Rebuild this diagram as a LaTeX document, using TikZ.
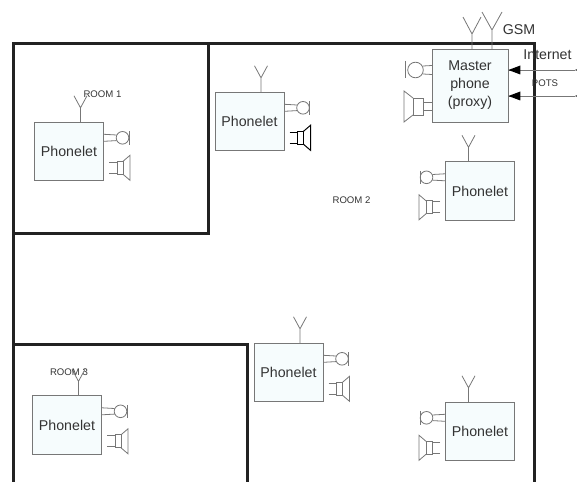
\documentclass[tikz,border=0pt]{standalone}
\usepackage{fontspec}
\setmainfont{Liberation Sans}
\definecolor{wallcol}{HTML}{222222}
\definecolor{linecol}{HTML}{777777}
\definecolor{boxfill}{HTML}{F6FCFD}
\definecolor{txtcol}{HTML}{333333}
\tikzset{
	wall/.style={draw=wallcol, line width=3pt, line cap=rect},
	gearline/.style={draw=linecol, line width=0.8pt},
	phonebox/.style={draw=linecol, line width=0.8pt, fill=boxfill, text=txtcol, font=\fontsize{14.2}{18}\selectfont,
		minimum width=69.2pt, minimum height=58.6pt, inner sep=0pt, align=center},
	roomlabel/.style={text=txtcol, font=\fontsize{9.6}{11}\selectfont, inner sep=0pt},
	biglabel/.style={text=txtcol, font=\fontsize{14.2}{16}\selectfont, inner sep=0pt},
	gear/.pic={
		% aerial
		\draw[gearline] (-23.5,0) -- (-23.5,-14) (-30,-26) -- (-23.5,-14) -- (-17,-26);
		% microphone
		\draw[gearline] (0,12.5) -- (12.5,13.2) (0,19.5) -- (12.5,18.8);
		\draw[gearline] (18.5,16) circle (6.3);
		\draw[gearline] (25,9.5) -- (25,23);
		% speaker
		\draw[draw=\spkcol, line width=\spkw] (5,40.5) -- (13,40.5) (5,51.5) -- (13,51.5);
		\draw[draw=\spkcol, line width=\spkw] (13,39.5) rectangle (19,52.5);
		\draw[draw=\spkcol, line width=\spkw] (19,39.5) -- (26,33.5) -- (26,58.5) -- (19,52.5);
	}
}
\begin{document}
\begin{tikzpicture}[x=1pt, y=-1pt, >=stealth]
	\clip (0,0) rectangle (577,481);
	% walls
	\draw[wall] (13,495) -- (13,44) -- (534,44) -- (534,495);
	\draw[wall] (208,44) -- (208,233) -- (13,233);
	\draw[wall] (13,344) -- (247,344) -- (247,495);

	% phonelets
	\foreach \boxname/\cx/\cy/\corner/\flip/\spkcol/\spkw in {
		roomone/69/151.5/north east/1/linecol/0.8pt,
		hall/249.5/121.5/north east/1/black/1pt,
		righttop/480/191/north west/-1/linecol/0.8pt,
		middle/288.5/372.5/north east/1/linecol/0.8pt,
		roomthree/67/425/north east/1/linecol/0.8pt,
		rightlow/480/431.5/north west/-1/linecol/0.8pt}{
		\node[phonebox] (\boxname) at (\cx,\cy) {Phonelet};
		\pic[xscale=\flip] at (\boxname.\corner) {gear};
	}

	% master phone
	\node[phonebox, minimum width=76pt, minimum height=73pt] (master) at (470,85.5) {Master\\phone\\(proxy)};
	\draw[gearline] (472,49) -- (472,34) (463,17) -- (472,34) -- (481,17);
	\draw[gearline] (492,49) -- (492,30) (482,12) -- (492,30) -- (502,12);
	\draw[gearline] (432,65.5) -- (423,66) (432,74.5) -- (423,74);
	\draw[gearline] (415.5,70) circle (7.8);
	\draw[gearline] (405,61) -- (405,78.5);
	\draw[gearline] (432,102) -- (423,102) (432,110) -- (423,110);
	\draw[gearline] (413,98) rectangle (423,115);
	\draw[gearline] (413,98) -- (404,91) -- (404,122) -- (413,115);

	% lines into the master phone
	\coordinate (inetend) at (575,70);
	\coordinate (potsend) at (575,96);
	\draw[gearline] (inetend) -- (master.east |- inetend);
	\draw[gearline] (potsend) -- (master.east |- potsend);
	\foreach \lineend in {inetend, potsend}{
		\fill[black] (master.east |- \lineend) -- ++(12,-4.5) -- ++(0,9) -- cycle;
		\fill[black] (\lineend) -- ++(12,-4.5) -- ++(0,9) -- cycle;
	}

	% labels
	\node[biglabel] (gsm) at (519,30) {GSM};
	\node[biglabel] (internet) at (547.5,55) {Internet};
	\node[roomlabel] (pots) at (545,83) {POTS};
	\node[roomlabel] (room1) at (102.5,94) {ROOM 1};
	\node[roomlabel] (room2) at (351.5,200) {ROOM 2};
	\node[roomlabel] (room3) at (69,372) {ROOM 3};
\end{tikzpicture}
\end{document}
